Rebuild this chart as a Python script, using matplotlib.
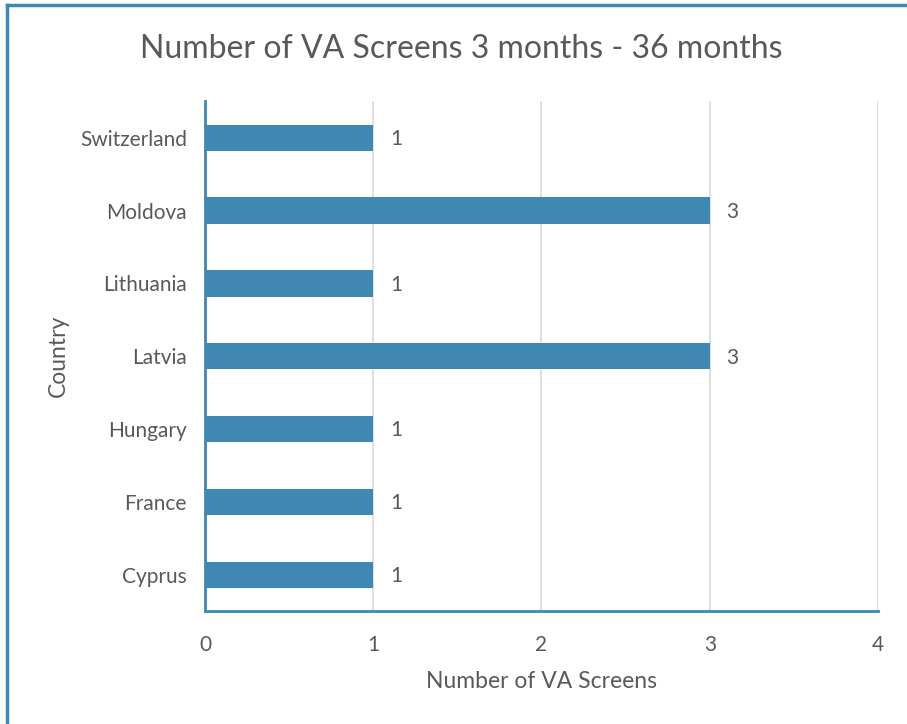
import matplotlib.pyplot as plt
from matplotlib.lines import Line2D

# Chart data
countries = ['Cyprus', 'France', 'Hungary', 'Latvia', 'Lithuania', 'Moldova', 'Switzerland']
screens = [1, 1, 1, 3, 1, 3, 1]

bar_color = '#3F88B4'
text_color = '#595959'

plt.rcParams['font.family'] = ['Lato', 'DejaVu Sans']

fig = plt.figure(figsize=(9.07, 7.24), dpi=100)
ax = fig.add_axes([0.226, 0.156, 0.742, 0.704])

pos = list(range(len(countries)))
ax.barh(pos, screens, height=0.36, color=bar_color, zorder=3)

for y, v in zip(pos, screens):
    ax.annotate(str(v), (v, y), xytext=(12, -1), textcoords='offset points',
                va='center', ha='left', fontsize=15, color=text_color)

ax.set_xlim(0, 4)
ax.set_ylim(-0.5, len(countries) - 0.5)
ax.set_xticks([0, 1, 2, 3, 4])
ax.set_yticks(pos)
ax.set_yticklabels(countries)
ax.tick_params(axis='both', length=0, labelsize=15, colors=text_color)
ax.tick_params(axis='x', pad=17)
ax.tick_params(axis='y', pad=13)
ax.grid(axis='x', color='#D9D9D9', linewidth=1.2, zorder=0)

for side in ['top', 'right']:
    ax.spines[side].set_visible(False)
for side in ['left', 'bottom']:
    ax.spines[side].set_color(bar_color)
    ax.spines[side].set_linewidth(2)

ax.set_xlabel('Number of VA Screens', fontsize=16.5, color=text_color, labelpad=12)
ax.set_ylabel('Country', fontsize=16.5, color=text_color, labelpad=8)
fig.text(0.508, 0.932, 'Number of VA Screens 3 months - 36 months',
         ha='center', va='center', fontsize=23, color=text_color)

# outer frame (left and top edges visible in the original)
fig.add_artist(Line2D([0.008, 0.008], [0, 0.993], transform=fig.transFigure,
                      color=bar_color, linewidth=2.5))
fig.add_artist(Line2D([0.008, 1], [0.993, 0.993], transform=fig.transFigure,
                      color=bar_color, linewidth=2.5))

plt.savefig('out.png', dpi=100)
plt.close(fig)
